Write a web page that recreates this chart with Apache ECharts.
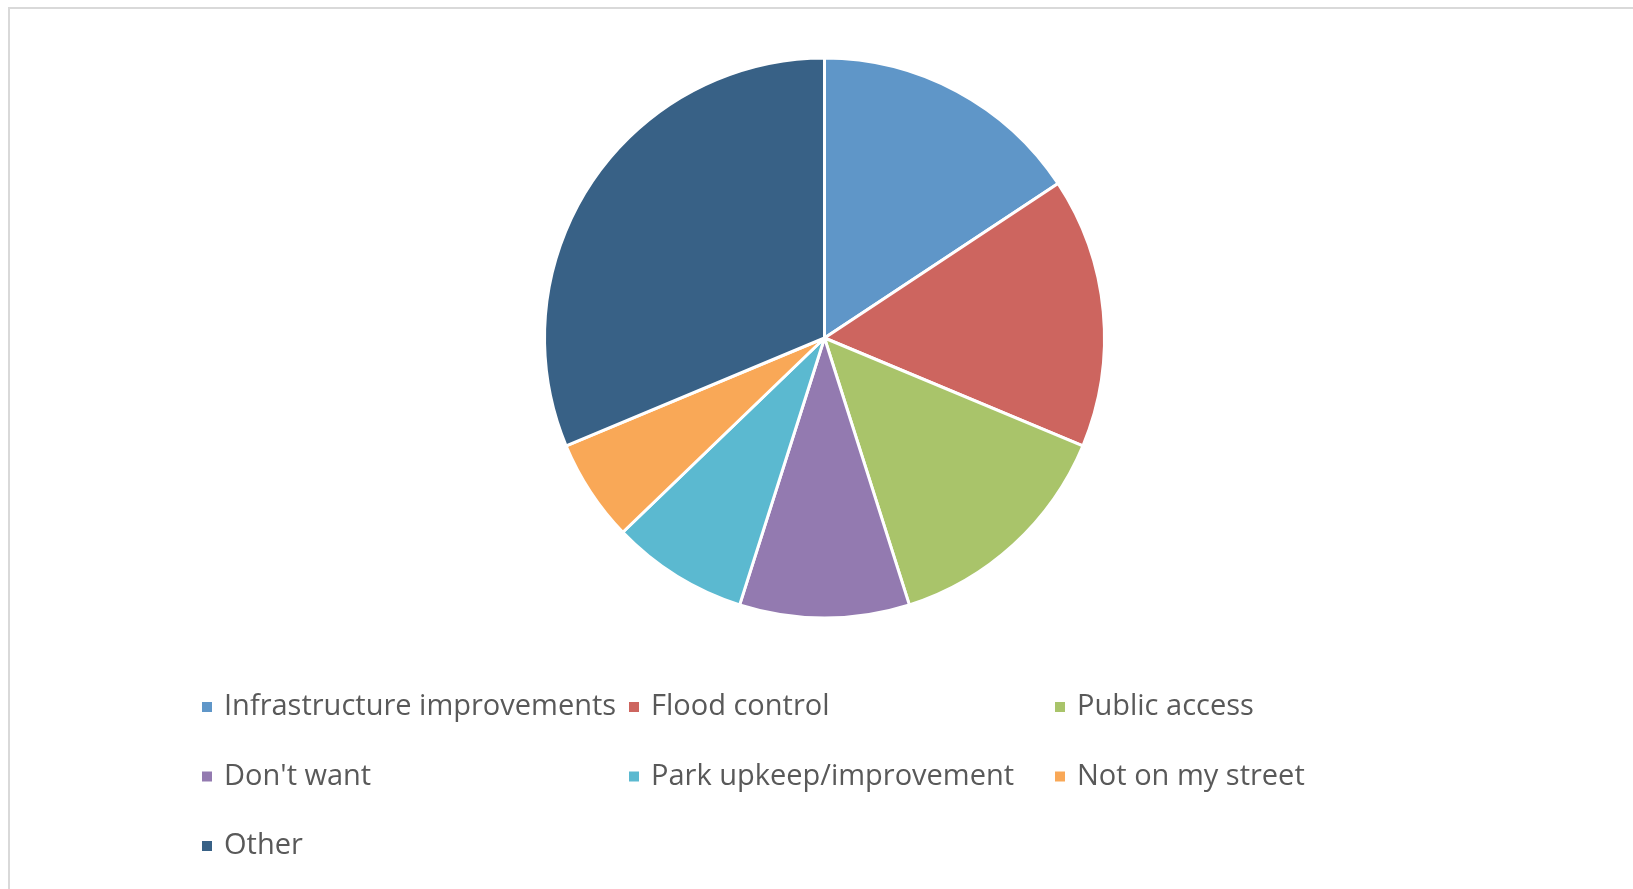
<!DOCTYPE html>
<html>
<head>
<meta charset="utf-8">
<script src="https://cdn.jsdelivr.net/npm/echarts@6/dist/echarts.min.js"></script>
<style>
  html, body { margin: 0; padding: 0; width: 1633px; height: 889px; overflow: hidden; background: #fff; }
  #frame { position: absolute; left: 8px; top: 7px; width: 1700px; height: 1000px; border: 2px solid #d9d9d9; box-sizing: border-box; }
  #chart { position: absolute; left: 0; top: 0; width: 1633px; height: 889px; }
</style>
</head>
<body>
<div id="frame"></div>
<div id="chart"></div>
<script>
const categories = ["Infrastructure improvements", "Flood control", "Public access", "Don't want", "Park upkeep/improvement", "Not on my street", "Other"];
const values = [15.7, 15.6, 13.8, 9.8, 7.9, 5.9, 31.3];
const colors = ["#5f96c8", "#cd655f", "#a9c46a", "#937ab0", "#5bb9d0", "#f9a857", "#386186"];

const chart = echarts.init(document.getElementById('chart'), null, { renderer: 'canvas' });
const legendText = { color: '#595959', fontFamily: 'Open Sans', fontSize: 29, lineHeight: 30, padding: [0, 0, 0, 6] };
function mkLegend(left, idx) {
  return {
    orient: 'vertical', left: left, top: 692, padding: 0, itemWidth: 12, itemHeight: 12, itemGap: 39.5,
    icon: 'rect', selectedMode: false, textStyle: legendText,
    data: idx.map(i => categories[i])
  };
}
chart.setOption({
  animation: false,
  color: colors,
  legend: [mkLegend(200, [0, 3, 6]), mkLegend(627, [1, 4]), mkLegend(1053, [2, 5])],
  series: [{
    type: 'pie',
    center: [824.5, 338],
    radius: [0, 280],
    startAngle: 90,
    clockwise: true,
    label: { show: false },
    labelLine: { show: false },
    emphasis: { disabled: true },
    itemStyle: { borderColor: '#ffffff', borderWidth: 3 },
    data: categories.map((c, i) => ({ name: c, value: values[i] }))
  }]
});
</script>
</body>
</html>
